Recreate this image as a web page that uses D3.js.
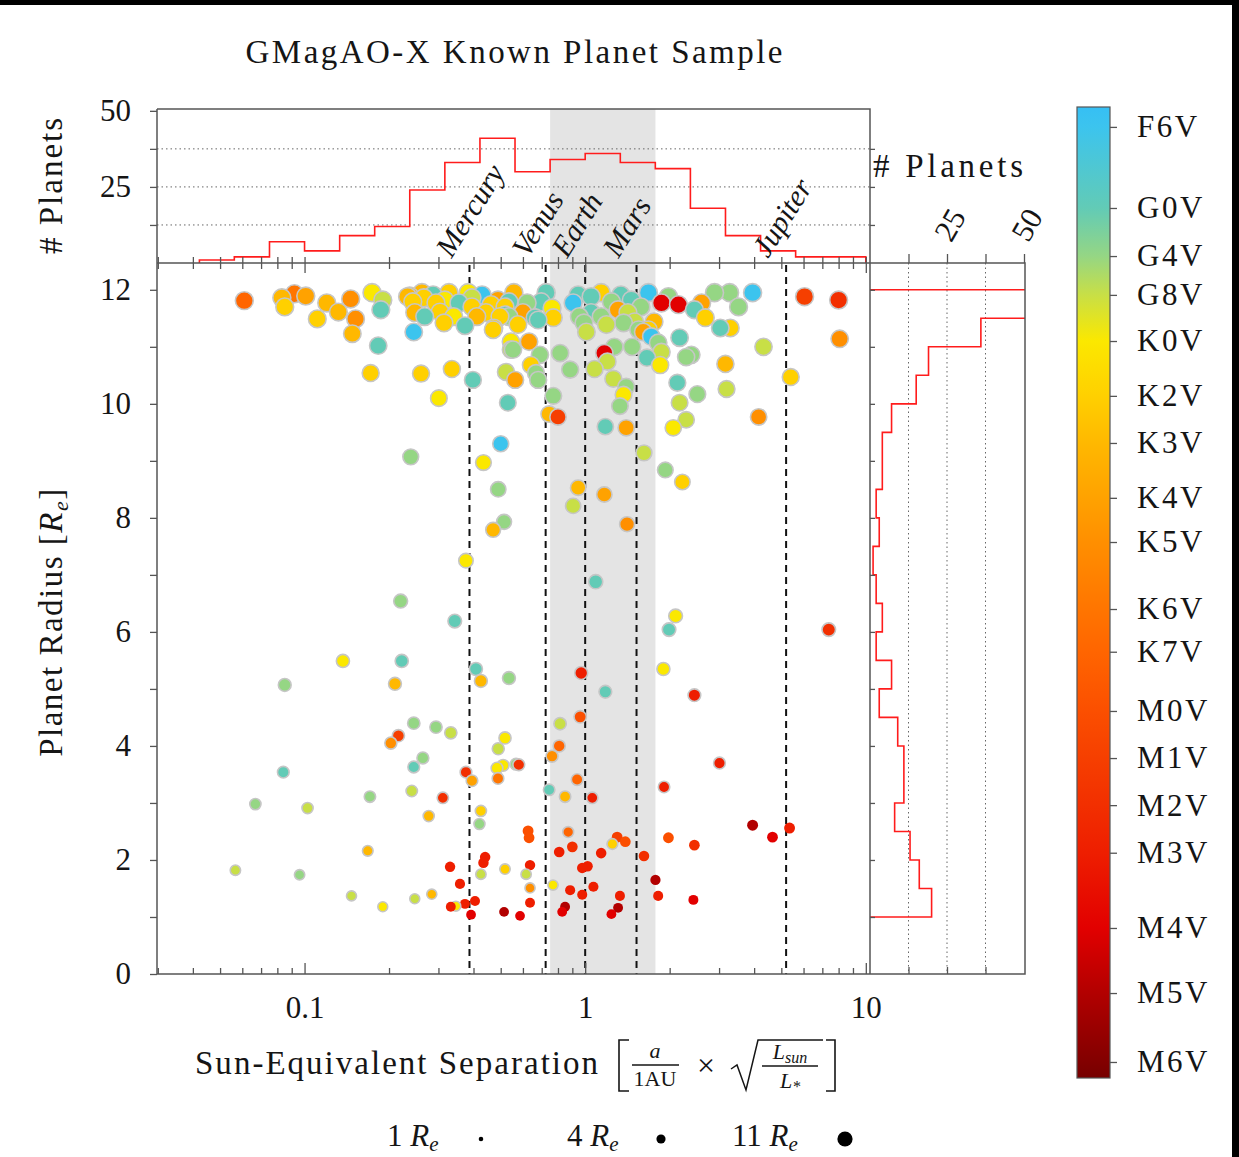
<!DOCTYPE html>
<meta charset="utf-8">
<style>
body { margin: 0; background: #000; }
svg { display: block; }
text { font-family: "Liberation Serif", "Times New Roman", serif; fill: #151515; }
.axis path { display: none; }
.axis line { stroke: #555; stroke-width: 1.3px; }
.axis text { font-size: 31px; font-family: "Liberation Serif", serif; fill: #151515; }
.frame { fill: none; stroke: #555; stroke-width: 1.5px; }
.grid { stroke: #666; stroke-width: 1px; stroke-dasharray: 1.5 3; }
.hist { fill: none; stroke: #ff1c1c; stroke-width: 1.6px; }
.orbit { stroke: #111; stroke-width: 2px; stroke-dasharray: 7 5; }
</style>
<svg width="1239" height="1157"></svg>
<script src="https://d3js.org/d3.v7.min.js"></script>
<script>
// ---- data ----
var titleText = "GMagAO-X Known Planet Sample";

var spectralTypes = ["F6V","G0V","G4V","G8V","K0V","K2V","K3V","K4V","K5V","K6V","K7V","M0V","M1V","M2V","M3V","M4V","M5V","M6V"];
// position of each type on the colour bar (0 = top, 20 = bottom)
var spectralIndex = [0.41,2.08,3.07,3.87,4.82,5.95,6.92,8.05,8.96,10.34,11.22,12.44,13.41,14.38,15.36,16.91,18.25,19.67];
var spectralColors = ["#3cc4ee","#62cbb6","#95d684","#c8df46","#fbe800","#ffd000","#ffb800","#ffa200","#ff8f00","#ff7500","#ff6500","#fb4f00","#f63f00","#f22f00","#ee1e00","#e20000","#b20000","#820000"];

var solarNames = ["Mercury","Venus","Earth","Mars","Jupiter"];
var solarSep = [0.387,0.723,1.0,1.524,5.2];
var habitableZone = [0.75,1.78];

// separation histogram (log bins)
var sepBinEdges = [0.0422,0.0562,0.0750,0.1,0.1334,0.1778,0.2371,0.3162,0.4217,0.5623,0.7499,1.0,1.334,1.778,2.371,3.162,4.217,5.623,7.499,10.0];
var sepCounts = [1,2,7,4,9,12,24,33,41,30,34,36,33,31,18,9,4,2,2];

// radius histogram (0.5 Re bins)
var radBinEdges = [1,1.5,2,2.5,3,3.5,4,4.5,5,5.5,6,6.5,7,7.5,8,8.5,9,9.5,10,10.5,11,11.5,12];
var radCounts = [20,16,13,8,11,11,9,3,7,2,4,2,1,3,2,4,4,7,15,19,36,135];

var legendRadii = [1,4,11];

// planets: [sun-equivalent separation, radius (Re), host spectral type]
var planets = [
[0.50,9.3,"F6V"],[0.239,9.07,"G4V"],[0.434,8.97,"K0V"],[1.62,9.14,"G8V"],[1.93,8.84,"G4V"],[2.22,8.63,"K2V"],
[0.49,8.5,"G4V"],[0.944,8.53,"K3V"],[1.17,8.41,"K4V"],[0.906,8.21,"G8V"],[0.514,7.93,"G4V"],[0.47,7.79,"K3V"],
[1.41,7.89,"K5V"],[0.376,7.25,"K0V"],[1.09,6.88,"G0V"],[0.22,6.54,"G4V"],[0.343,6.19,"G0V"],[2.10,6.28,"K0V"],
[1.99,6.04,"G0V"],[7.38,6.04,"M2V"],[0.137,5.49,"K0V"],[0.222,5.49,"G0V"],[0.408,5.35,"G0V"],[0.425,5.14,"K3V"],
[0.535,5.19,"G4V"],[0.085,5.07,"G4V"],[0.21,5.09,"K3V"],[0.968,5.28,"M3V"],[1.90,5.35,"K0V"],[1.18,4.95,"G0V"],
[2.45,4.89,"M3V"],[0.96,4.51,"M0V"],[0.245,4.40,"G4V"],[0.294,4.33,"G4V"],[0.332,4.23,"G8V"],[0.814,4.39,"G8V"],
[0.518,4.14,"K0V"],[0.216,4.18,"M1V"],[0.203,4.05,"K5V"],[0.49,3.95,"G8V"],[0.808,4.0,"K7V"],[0.762,3.82,"K5V"],
[0.264,3.79,"G4V"],[0.245,3.63,"G0V"],[0.084,3.54,"G0V"],[0.485,3.61,"K0V"],[0.51,3.66,"K0V"],[0.567,3.68,"G4V"],
[0.58,3.67,"M2V"],[0.376,3.54,"M2V"],[0.395,3.39,"K4V"],[0.489,3.43,"K6V"],[0.936,3.41,"K7V"],[3.01,3.70,"M3V"],
[1.91,3.28,"M3V"],[0.744,3.23,"G0V"],[0.848,3.11,"K3V"],[1.06,3.09,"M3V"],[0.241,3.21,"G8V"],[0.171,3.11,"G4V"],
[0.311,3.09,"M2V"],[0.0668,2.98,"G4V"],[0.1025,2.91,"G8V"],[0.425,2.86,"K2V"],[0.277,2.77,"K3V"],[0.42,2.63,"G4V"],
[3.95,2.61,"M5V"],[4.65,2.40,"M4V"],[5.35,2.56,"M3V"],[0.626,2.51,"M0V"],[0.631,2.39,"M0V"],[0.87,2.49,"K7V"],
[1.30,2.40,"M1V"],[1.39,2.32,"M0V"],[1.25,2.28,"K2V"],[1.98,2.39,"M0V"],[2.45,2.26,"M2V"],[0.168,2.16,"K3V"],
[0.90,2.23,"M2V"],[0.808,2.14,"M3V"],[1.14,2.12,"M3V"],[1.62,2.07,"M2V"],[0.44,2.05,"M3V"],[0.434,1.95,"M3V"],
[0.33,1.88,"M3V"],[0.636,1.91,"M3V"],[0.518,1.84,"K2V"],[0.976,1.86,"M3V"],[1.02,1.89,"M3V"],[0.0567,1.82,"G8V"],
[0.096,1.74,"G4V"],[0.425,1.75,"G8V"],[0.616,1.75,"G8V"],[0.358,1.58,"M3V"],[0.768,1.56,"K0V"],[0.636,1.51,"K5V"],
[1.78,1.65,"M5V"],[0.884,1.47,"M3V"],[1.07,1.53,"M3V"],[0.147,1.37,"G8V"],[0.247,1.32,"G8V"],[0.284,1.40,"K3V"],
[0.976,1.39,"M3V"],[1.33,1.37,"M3V"],[1.82,1.37,"M3V"],[2.43,1.30,"M4V"],[0.19,1.18,"K0V"],[0.332,1.18,"M3V"],
[0.346,1.19,"K0V"],[0.373,1.23,"M3V"],[0.405,1.28,"M3V"],[0.392,1.04,"M4V"],[0.514,1.09,"M5V"],[0.586,1.02,"M4V"],
[0.636,1.25,"M3V"],[0.828,1.09,"M4V"],[0.848,1.18,"M5V"],[1.24,1.05,"M4V"],[1.31,1.16,"M5V"],
[0.061,11.81,"K7V"],[0.083,11.86,"K3V"],[0.085,11.70,"K2V"],[0.092,11.93,"K6V"],[0.101,11.89,"K4V"],[0.12,11.77,"K3V"],
[0.132,11.61,"K3V"],[0.111,11.49,"K2V"],[0.146,11.84,"K5V"],[0.152,11.49,"K5V"],[0.148,11.23,"K3V"],[0.174,11.95,"K0V"],
[0.19,11.82,"G8V"],[0.187,11.65,"G0V"],[0.183,11.02,"G0V"],[0.172,10.54,"K2V"],[0.26,10.53,"K2V"],[0.335,10.61,"K2V"],
[0.301,10.1,"K0V"],[0.398,10.42,"G0V"],[0.245,11.26,"F6V"],[0.268,11.53,"G0V"],[0.237,11.89,"K3V"],[0.247,11.6,"K3V"],
[0.314,11.42,"K2V"],[0.373,11.37,"G0V"],[0.473,11.33,"K2V"],[0.518,11.56,"G0V"],[0.544,11.09,"K0V"],[0.544,10.95,"G8V"],
[0.522,10.56,"G8V"],[0.53,10.02,"G0V"],[0.563,10.42,"K4V"],
[0.233,11.88,"K3V"],[0.262,11.95,"K3V"],[0.294,11.77,"K2V"],[0.327,11.95,"K2V"],[0.355,11.77,"G0V"],[0.383,11.95,"K0V"],
[0.395,11.7,"K2V"],[0.429,11.91,"F6V"],[0.443,11.6,"K2V"],[0.47,11.3,"K2V"],[0.489,11.82,"K4V"],[0.518,11.7,"K2V"],
[0.557,11.95,"K3V"],[0.535,11.53,"G4V"],[0.621,11.77,"G4V"],[0.6,11.6,"K4V"],[0.663,11.51,"G0V"],[0.697,11.79,"G0V"],
[0.762,11.68,"K0V"],[0.77,11.51,"K2V"],[0.266,11.86,"K2V"],[0.304,11.61,"K2V"],[0.411,11.53,"K3V"],[0.34,11.53,"K0V"],
[0.497,11.53,"K2V"],[0.462,11.74,"K2V"],[0.316,11.82,"K0V"],[0.243,11.79,"K2V"],[0.395,11.86,"G8V"],[0.287,11.91,"G0V"],
[0.535,11.79,"G0V"],[0.726,11.95,"G0V"],
[6.05,11.88,"M1V"],[8.0,11.82,"M2V"],[8.07,11.14,"K5V"],[3.95,11.95,"F6V"],[5.4,10.47,"K2V"],[4.32,11.0,"G8V"],
[4.15,9.77,"K5V"],[3.16,10.7,"K3V"],[3.19,10.26,"G8V"],[3.29,11.33,"K2V"],[3.03,11.33,"G0V"],[3.27,11.95,"G4V"],
[3.52,11.70,"G4V"],[1.87,11.77,"M4V"],[2.15,11.74,"M4V"],[2.68,11.51,"K2V"],[2.60,11.77,"K4V"],[2.45,11.65,"G0V"],
[2.17,11.16,"G0V"],[2.39,10.86,"G4V"],[2.29,10.82,"G4V"],[2.13,10.37,"G0V"],[2.51,10.17,"G4V"],[2.17,10.02,"G8V"],
[2.29,9.72,"G8V"],[2.06,9.58,"K0V"],[1.85,10.68,"K0V"],[1.66,10.81,"G0V"],[1.72,11.18,"F6V"],[1.82,11.07,"G4V"],
[1.87,10.91,"G8V"],[1.68,11.3,"K2V"],[1.76,11.44,"K3V"],[1.61,11.26,"K4V"],[1.58,11.7,"G4V"],[1.68,11.95,"F6V"],
[1.98,11.88,"G4V"],[2.89,11.95,"G4V"],[1.17,10.89,"M4V"],[1.2,10.74,"G8V"],[1.08,10.61,"G8V"],[1.27,11.0,"G4V"],
[1.47,11.0,"G4V"],[1.26,10.44,"G8V"],[1.40,10.3,"G4V"],[1.37,10.16,"K0V"],[1.33,9.96,"G4V"],[1.18,9.6,"G0V"],
[1.40,9.58,"K4V"],[1.01,11.26,"G8V"],[0.814,10.89,"G4V"],[0.884,10.6,"G4V"],[0.77,10.14,"G4V"],[0.744,9.82,"K3V"],
[0.8,9.77,"M1V"],[0.631,11.09,"K4V"],[0.69,10.86,"G4V"],[0.553,10.95,"G4V"],[0.641,10.68,"K2V"],[0.668,10.54,"G4V"],
[0.68,10.42,"G4V"],[0.576,11.39,"K2V"],[0.68,11.47,"G0V"],[0.906,11.77,"F6V"],[0.953,11.53,"G4V"],[0.944,11.91,"G0V"],
[1.05,11.88,"G0V"],[1.14,11.95,"K2V"],[1.34,11.91,"G0V"],[1.46,11.82,"G0V"],[1.24,11.79,"G4V"],[1.42,11.6,"G8V"],
[1.14,11.53,"G4V"],[1.19,11.39,"G8V"],[1.31,11.65,"K4V"],[1.37,11.42,"G4V"],[1.5,11.44,"G8V"],[1.55,11.3,"G4V"],
[1.05,11.6,"G0V"],[0.99,11.42,"G4V"]
];

// ---- layout ----
var svg = d3.select("svg");
var L = 157, R = 870, T = 263, B = 974, HT = 109, RR = 1025;

svg.append("rect").attr("width", 1239).attr("height", 1157).attr("fill", "#000");
svg.append("rect").attr("x", 0).attr("y", 5).attr("width", 1232).attr("height", 1152).attr("fill", "#fff");

var x = d3.scaleLog().domain([0.0298, 10.35]).range([L, R]);
var y = d3.scaleLinear().domain([0, 12.47]).range([B, T]);
var yTop = d3.scaleLinear().domain([0, 50.6]).range([T, HT]);
var xRight = d3.scaleLinear().domain([0, 50]).range([R, 1024]);
var cbY = d3.scaleLinear().domain([0, 20]).range([107, 1078]);
var colorOf = d3.scaleLinear().domain(spectralIndex).range(spectralColors).clamp(true);
var typeIdx = {};
spectralTypes.forEach(function(t, i) { typeIdx[t] = spectralIndex[i]; });
var rScale = d3.scaleLinear().domain([0, 12]).range([4.5, 9]);

// habitable zone band
svg.append("rect")
  .attr("x", x(habitableZone[0])).attr("y", HT)
  .attr("width", x(habitableZone[1]) - x(habitableZone[0])).attr("height", B - HT)
  .attr("fill", "#e4e4e4");

// grid lines in histograms
[12.5, 25, 37.5].forEach(function(c) {
  svg.append("line").attr("class", "grid").attr("x1", L).attr("x2", R).attr("y1", yTop(c)).attr("y2", yTop(c));
  svg.append("line").attr("class", "grid").attr("x1", xRight(c)).attr("x2", xRight(c)).attr("y1", T).attr("y2", B);
});

// histograms
var topPts = [[sepBinEdges[0], 0]];
sepCounts.forEach(function(c, i) { topPts.push([sepBinEdges[i], c]); topPts.push([sepBinEdges[i + 1], c]); });
topPts.push([sepBinEdges[sepBinEdges.length - 1], 0]);
svg.append("path").attr("class", "hist")
  .attr("d", d3.line().x(function(d) { return x(d[0]); }).y(function(d) { return yTop(d[1]); })(topPts));

svg.append("clipPath").attr("id", "rclip").append("rect").attr("x", R).attr("y", T).attr("width", RR - R).attr("height", B - T);
var rightPts = [[0, radBinEdges[0]]];
radCounts.forEach(function(c, i) { rightPts.push([c, radBinEdges[i]]); rightPts.push([c, radBinEdges[i + 1]]); });
rightPts.push([0, radBinEdges[radBinEdges.length - 1]]);
svg.append("path").attr("class", "hist").attr("clip-path", "url(#rclip)")
  .attr("d", d3.line().x(function(d) { return xRight(d[0]); }).y(function(d) { return y(d[1]); })(rightPts));

// solar system orbits
svg.selectAll(".orbit").data(solarSep).enter().append("line")
  .attr("class", "orbit")
  .attr("x1", function(d) { return x(d); }).attr("x2", function(d) { return x(d); })
  .attr("y1", T + 2).attr("y2", B);
svg.selectAll(".plabel").data(solarNames).enter().append("text")
  .attr("class", "plabel")
  .attr("transform", function(d, i) { return "translate(" + (x(solarSep[i]) - 18) + "," + 259 + ") rotate(-58)"; })
  .attr("font-size", 30).attr("font-style", "italic")
  .text(function(d) { return d; });

// scatter
var sorted = planets.slice().sort(function(a, b) { return b[1] - a[1]; });
svg.append("g").selectAll("circle").data(sorted).enter().append("circle")
  .attr("cx", function(d) { return x(d[0]); })
  .attr("cy", function(d) { return y(d[1]); })
  .attr("r", function(d) { return rScale(d[1]); })
  .attr("fill", function(d) { return colorOf(typeIdx[d[2]]); })
  .attr("stroke", function(d) { return (d[1] > 3 || d[2][0] !== "M") ? "#c6c6c6" : "none"; })
  .attr("stroke-width", 1.6);

// frames
svg.append("path").attr("class", "frame")
  .attr("d", "M" + L + "," + HT + "H" + R + "V" + B + "M" + L + "," + HT + "V" + B + "H" + RR + "V" + T + "H" + L);

// axes
function clean(g) { g.attr("font-size", null).attr("font-family", null); }
var decades = [0.01, 0.1, 1, 10];
var minor = [];
decades.forEach(function(d) { [2,3,4,5,6,7,8,9].forEach(function(m) { var v = d * m; if (v > 0.0298 && v < 10.35) minor.push(v); }); });
var major = [0.1, 1, 10];

svg.append("g").attr("class", "axis").attr("transform", "translate(0," + B + ")")
  .call(d3.axisBottom(x).tickValues(minor).tickSize(-6).tickFormat("")).call(clean);
svg.append("g").attr("class", "axis").attr("transform", "translate(0," + B + ")")
  .call(d3.axisBottom(x).tickValues(major).tickSize(-11).tickPadding(22).tickFormat(function(d) { return d < 1 ? "0.1" : String(d); })).call(clean);
svg.append("g").attr("class", "axis").attr("transform", "translate(0," + T + ")")
  .call(d3.axisBottom(x).tickValues(minor).tickSize(6).tickFormat("")).call(clean);
svg.append("g").attr("class", "axis").attr("transform", "translate(0," + T + ")")
  .call(d3.axisTop(x).tickValues(minor.concat(major)).tickSize(6).tickFormat("")).call(clean);
svg.append("g").attr("class", "axis").attr("transform", "translate(0," + T + ")")
  .call(d3.axisBottom(x).tickValues(major).tickSize(10).tickFormat("")).call(clean);

svg.append("g").attr("class", "axis").attr("transform", "translate(" + L + ",0)")
  .call(d3.axisLeft(y).tickValues(d3.range(0, 13)).tickSize(7).tickPadding(19)
    .tickFormat(function(d) { return d % 2 === 0 ? d : ""; })).call(clean);
svg.append("g").attr("class", "axis").attr("transform", "translate(" + R + ",0)")
  .call(d3.axisRight(y).tickValues(d3.range(1, 13)).tickSize(5).tickFormat("")).call(clean);

svg.append("g").attr("class", "axis").attr("transform", "translate(" + L + ",0)")
  .call(d3.axisLeft(yTop).tickValues([12.5, 25, 37.5, 50]).tickSize(7).tickPadding(19)
    .tickFormat(function(d) { return d % 25 === 0 ? d : ""; })).call(clean);
svg.append("g").attr("class", "axis").attr("transform", "translate(" + R + ",0)")
  .call(d3.axisRight(yTop).tickValues([12.5, 25, 37.5]).tickSize(5).tickFormat("")).call(clean);

svg.append("g").attr("class", "axis").attr("transform", "translate(0," + T + ")")
  .call(d3.axisTop(xRight).tickValues([12.5, 25, 37.5, 50]).tickSize(9).tickFormat("")).call(clean);
svg.append("g").attr("class", "axis").attr("transform", "translate(0," + B + ")")
  .call(d3.axisBottom(xRight).tickValues([12.5, 25, 37.5]).tickSize(-7).tickFormat("")).call(clean);
[25, 50].forEach(function(c) {
  svg.append("text").attr("font-size", 31).attr("text-anchor", "middle")
    .attr("transform", "translate(" + (xRight(c) + 12) + ",230) rotate(-60)").text(c);
});

// titles and labels
svg.append("text").attr("x", 514).attr("y", 63).attr("text-anchor", "middle")
  .attr("font-size", 33).attr("textLength", 537).attr("lengthAdjust", "spacing").text(titleText);

svg.append("text").attr("transform", "translate(62,185) rotate(-90)").attr("text-anchor", "middle")
  .attr("font-size", 33).attr("letter-spacing", 2).text("# Planets");
svg.append("text").attr("x", 873).attr("y", 177).attr("font-size", 33)
  .attr("textLength", 150).attr("lengthAdjust", "spacing").text("# Planets");

var yl = svg.append("text").attr("transform", "translate(62,622) rotate(-90)").attr("text-anchor", "middle")
  .attr("font-size", 33).attr("letter-spacing", 1.5);
yl.append("tspan").text("Planet Radius [");
yl.append("tspan").attr("font-style", "italic").text("R");
yl.append("tspan").attr("font-size", 22).attr("font-style", "italic").attr("dy", 6).text("e");
yl.append("tspan").attr("dy", -6).text("]");

// x label with the formula
svg.append("text").attr("x", 195).attr("y", 1074).attr("font-size", 33)
  .attr("textLength", 403).attr("lengthAdjust", "spacing").text("Sun-Equivalent Separation");
var mathStroke = "#151515";
svg.append("path").attr("d", "M629,1040H619V1091H629").attr("fill", "none").attr("stroke", mathStroke).attr("stroke-width", 1.6);
svg.append("text").attr("x", 655).attr("y", 1058).attr("text-anchor", "middle").attr("font-size", 22).attr("font-style", "italic").text("a");
svg.append("line").attr("x1", 632).attr("x2", 679).attr("y1", 1065).attr("y2", 1065).attr("stroke", mathStroke).attr("stroke-width", 1.3);
svg.append("text").attr("x", 655).attr("y", 1086).attr("text-anchor", "middle").attr("font-size", 22).text("1AU");
svg.append("text").attr("x", 706).attr("y", 1076).attr("text-anchor", "middle").attr("font-size", 32).text("\u00d7");
svg.append("path").attr("d", "M731,1069L737,1065L746,1090L758,1040H823").attr("fill", "none").attr("stroke", mathStroke).attr("stroke-width", 1.5);
var num = svg.append("text").attr("x", 790).attr("y", 1059).attr("text-anchor", "middle").attr("font-size", 22).attr("font-style", "italic");
num.append("tspan").text("L");
num.append("tspan").attr("font-size", 16).attr("dy", 4).text("sun");
svg.append("line").attr("x1", 762).attr("x2", 818).attr("y1", 1066).attr("y2", 1066).attr("stroke", mathStroke).attr("stroke-width", 1.3);
var den = svg.append("text").attr("x", 790).attr("y", 1088).attr("text-anchor", "middle").attr("font-size", 22).attr("font-style", "italic");
den.append("tspan").text("L");
den.append("tspan").attr("font-size", 16).attr("dy", 4).text("*");
svg.append("path").attr("d", "M826,1040H835V1091H826").attr("fill", "none").attr("stroke", mathStroke).attr("stroke-width", 1.6);

// size legend
var legR = d3.scaleSqrt().domain([0, 11]).range([0, 7.6]);
var legX = [387, 567, 732], legDot = [481, 661, 845];
legendRadii.forEach(function(v, i) {
  var t = svg.append("text").attr("x", legX[i]).attr("y", 1146).attr("font-size", 31);
  t.append("tspan").text(v + " ");
  t.append("tspan").attr("font-style", "italic").text("R");
  t.append("tspan").attr("font-size", 21).attr("font-style", "italic").attr("dy", 5).text("e");
  svg.append("circle").attr("cx", legDot[i]).attr("cy", 1139).attr("r", legR(v)).attr("fill", "#000");
});

// colour bar
var grad = svg.append("defs").append("linearGradient").attr("id", "cbar")
  .attr("x1", 0).attr("y1", 0).attr("x2", 0).attr("y2", 1);
grad.append("stop").attr("offset", 0).attr("stop-color", "#36bff4");
spectralIndex.forEach(function(v, i) {
  grad.append("stop").attr("offset", v / 20).attr("stop-color", spectralColors[i]);
});
grad.append("stop").attr("offset", 1).attr("stop-color", "#760000");
svg.append("rect").attr("x", 1077).attr("y", cbY(0)).attr("width", 33).attr("height", cbY(20) - cbY(0))
  .attr("fill", "url(#cbar)").attr("stroke", "#555").attr("stroke-width", 1.2);
svg.append("g").attr("class", "axis").attr("transform", "translate(1110,0)")
  .call(d3.axisRight(cbY).tickValues(spectralIndex).tickSize(7).tickPadding(20)
    .tickFormat(function(d, i) { return spectralTypes[i]; })).call(clean)
  .selectAll("text").attr("letter-spacing", 2.5);
</script>
